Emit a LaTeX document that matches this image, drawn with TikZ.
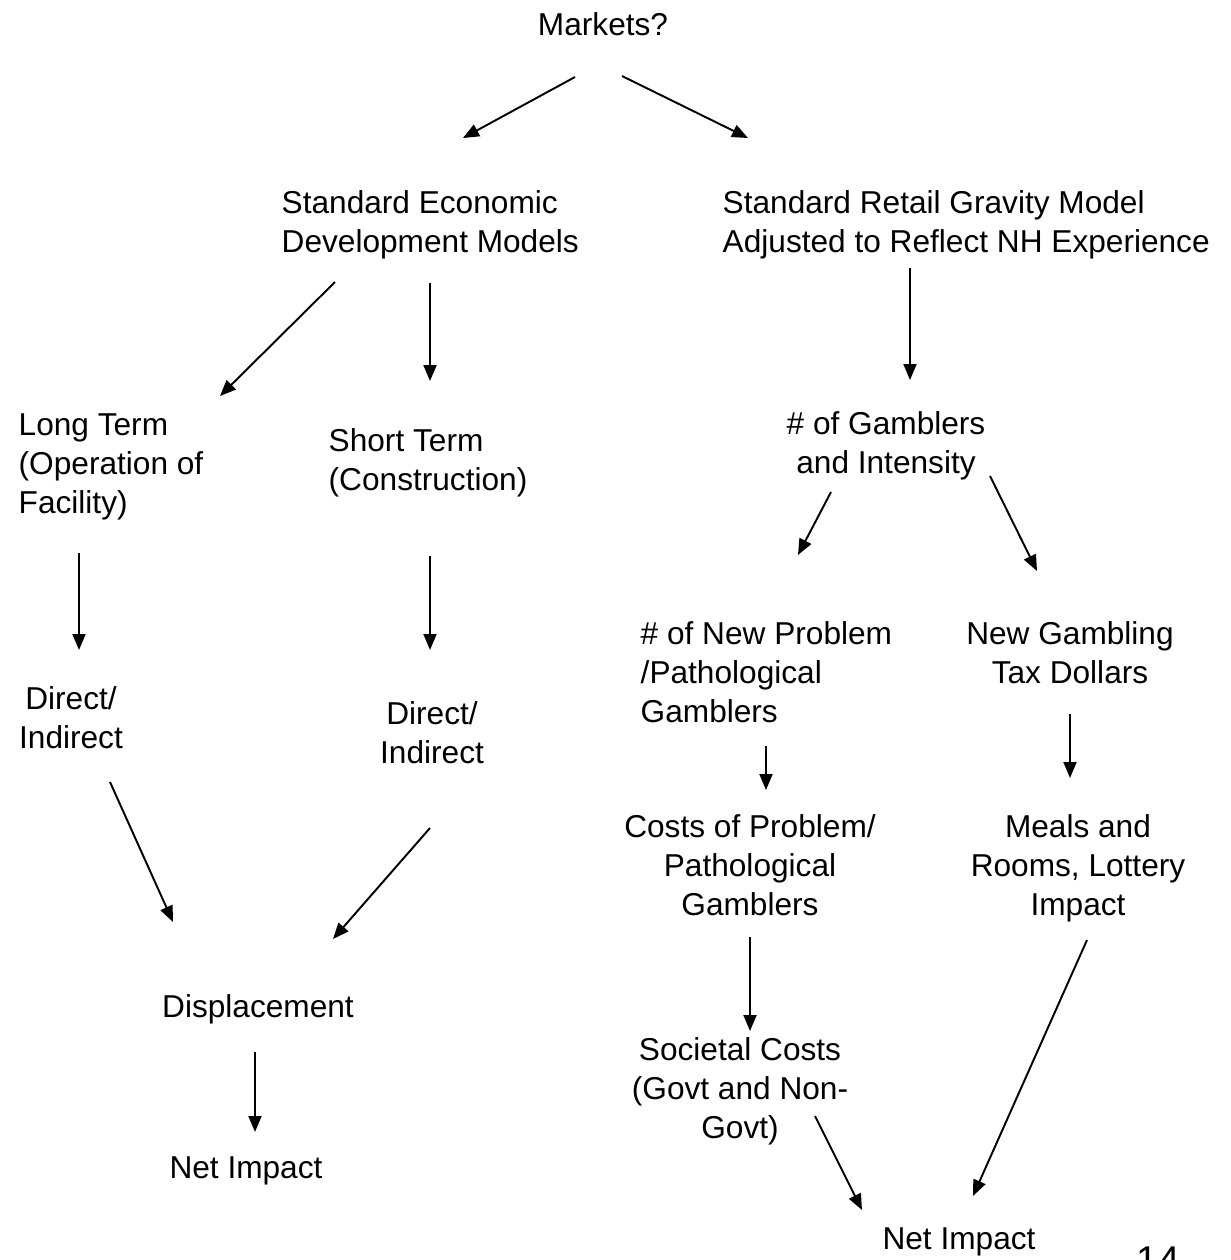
\documentclass[tikz,border=0pt]{standalone}
\usepackage{fontspec}
\setmainfont{Liberation Sans}
\usetikzlibrary{arrows.meta}

\tikzset{
    lbl/.style={font=\fontsize{9}{11.1}\selectfont, inner sep=0pt},
    arr/.style={-{Triangle[length=1.6mm,width=1.3mm]}, line width=0.55pt}
}

\begin{document}
\begin{tikzpicture}[x=0.1mm, y=-0.1mm]
        \useasboundingbox (0,0) rectangle (1230,1260);
        % texts
        \node[lbl, anchor=north] (mk) at (603,12) {Markets?};
        \node[lbl, anchor=north west, align=left] (sed) at (281,190) {Standard Economic\\Development Models};
        \node[lbl, anchor=north west, align=left] (srg) at (722,190) {Standard Retail Gravity Model\\Adjusted to Reflect NH Experience};
        \node[lbl, anchor=north west, align=left] (lt) at (18,413) {Long Term\\(Operation of\\Facility)};
        \node[lbl, anchor=north west, align=left] (st) at (328,428) {Short Term\\(Construction)};
        \node[lbl, anchor=north, align=center] (gi) at (886,411) {\# of Gamblers\\and Intensity};
        \node[lbl, anchor=north, align=center] (dl) at (71,686) {Direct/\\Indirect};
        \node[lbl, anchor=north, align=center] (dm) at (432,701) {Direct/\\Indirect};
        \node[lbl, anchor=north west, align=left] (np) at (640,621) {\# of New Problem\\/Pathological\\Gamblers};
        \node[lbl, anchor=north, align=center] (nt) at (1070,621) {New Gambling\\Tax Dollars};
        \node[lbl, anchor=north, align=center] (cp) at (750,814) {Costs of Problem/\\Pathological\\Gamblers};
        \node[lbl, anchor=north, align=center] (mr) at (1078,814) {Meals and\\Rooms, Lottery\\Impact};
        \node[lbl, anchor=north] (dp) at (258,994) {Displacement};
        \node[lbl, anchor=north] (nl) at (246,1156) {Net Impact};
        \node[lbl, anchor=north, align=center] (sc) at (740,1037) {Societal Costs\\(Govt and Non-\\Govt)};
        \node[lbl, anchor=north] (nr) at (959,1227) {Net Impact};
        \node[lbl, anchor=north, font=\fontsize{11}{13}\selectfont] (pg) at (1158,1246) {14};

        % arrow ends
        \coordinate (mk-l) at (575,77);   \coordinate (sed-t) at (463,138);
        \coordinate (mk-r) at (622,76);   \coordinate (srg-t) at (748,138);
        \coordinate (sed-l) at (335,282); \coordinate (lt-t) at (220,396);
        \coordinate (sed-b) at (430,283); \coordinate (st-t) at (430,381);
        \coordinate (srg-b) at (910,268); \coordinate (gi-t) at (910,380);
        \coordinate (lt-b) at (79,553);   \coordinate (dl-t) at (79,650);
        \coordinate (st-b) at (430,556);  \coordinate (dm-t) at (430,650);
        \coordinate (gi-l) at (831,492);  \coordinate (np-t) at (798,555);
        \coordinate (gi-r) at (990,476);  \coordinate (nt-t) at (1037,571);
        \coordinate (np-b) at (766,746);  \coordinate (cp-t) at (766,790);
        \coordinate (nt-b) at (1070,714); \coordinate (mr-t) at (1070,778);
        \coordinate (dl-b) at (110,782);  \coordinate (dp-l) at (173,922);
        \coordinate (dm-b) at (430,828);  \coordinate (dp-r) at (333,939);
        \coordinate (cp-b) at (750,937);  \coordinate (sc-t) at (750,1031);
        \coordinate (dp-b) at (255,1052); \coordinate (nl-t) at (255,1132);
        \coordinate (sc-b) at (815,1116); \coordinate (nr-l) at (862,1210);
        \coordinate (mr-b) at (1087,940); \coordinate (nr-r) at (973,1196);

        % arrows
        \draw[arr] (mk-l) -- (sed-t);
        \draw[arr] (mk-r) -- (srg-t);
        \draw[arr] (sed-l) -- (lt-t);
        \draw[arr] (sed-b) -- (st-t);
        \draw[arr] (srg-b) -- (gi-t);
        \draw[arr] (lt-b) -- (dl-t);
        \draw[arr] (st-b) -- (dm-t);
        \draw[arr] (gi-l) -- (np-t);
        \draw[arr] (gi-r) -- (nt-t);
        \draw[arr] (np-b) -- (cp-t);
        \draw[arr] (nt-b) -- (mr-t);
        \draw[arr] (dl-b) -- (dp-l);
        \draw[arr] (dm-b) -- (dp-r);
        \draw[arr] (cp-b) -- (sc-t);
        \draw[arr] (dp-b) -- (nl-t);
        \draw[arr] (sc-b) -- (nr-l);
        \draw[arr] (mr-b) -- (nr-r);
    \end{tikzpicture}
\end{document}
